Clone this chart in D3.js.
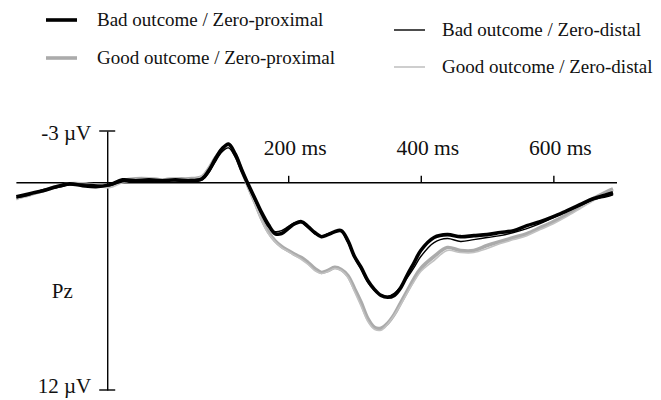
<!DOCTYPE html>
<html>
<head>
<meta charset="utf-8">
<script src="https://cdn.jsdelivr.net/npm/d3@7"></script>
<style>
  body { margin: 0; background: #fff; }
  svg text { font-family: "Liberation Serif", "Times New Roman", serif; fill: #111; }
</style>
</head>
<body>
<div id="chart"></div>
<script>
// time points (ms) at which the traces were read
const times = [-210, -190, -170, -150, -130, -110, -90, -70, -50, -30, -10, 10, 30, 50, 70,
  80, 90, 100, 110, 120, 130, 140, 150, 160, 170, 180, 190, 200, 210, 220, 230, 240, 250,
  260, 270, 280, 290, 300, 310, 320, 330, 340, 350, 360, 370, 380, 390, 400,
  420, 440, 460, 480, 500, 520, 540, 560, 580, 600, 620, 640, 660, 680, 690];

// amplitudes in µV (positive plotted downward)
const badProximal = [0.81, 0.63, 0.46, 0.23, 0.06, 0.17, 0.23, 0.12, -0.17, -0.12, -0.17, -0.12, -0.17, -0.12, -0.23,
  -0.69, -1.38, -1.96, -2.25, -1.67, -0.75, 0.12, 0.92, 1.73, 2.42, 2.94, 2.94, 2.65, 2.37, 2.25, 2.54, 2.88, 3.12,
  3.00, 2.83, 2.77, 3.35, 4.27, 4.90, 5.65, 6.17, 6.52, 6.63, 6.52, 6.06, 5.31, 4.62, 3.92,
  3.17, 3.00, 3.12, 3.06, 3.00, 2.88, 2.77, 2.48, 2.25, 1.96, 1.62, 1.27, 0.92, 0.69, 0.58];

const goodProximal = [0.87, 0.69, 0.46, 0.23, 0.06, 0.06, 0.12, 0.17, -0.12, -0.23, -0.23, -0.17, -0.23, -0.23, -0.35,
  -0.81, -1.44, -1.90, -2.13, -1.62, -0.69, 0.23, 1.15, 2.08, 2.83, 3.35, 3.69, 3.92, 4.15, 4.33, 4.62, 4.96, 5.19,
  5.08, 4.90, 5.02, 5.37, 6.12, 6.92, 7.85, 8.37, 8.42, 8.13, 7.62, 6.92, 6.23, 5.54, 4.96,
  4.27, 3.75, 3.92, 3.92, 3.63, 3.40, 3.17, 2.94, 2.60, 2.25, 1.85, 1.38, 0.92, 0.52, 0.35];

const badDistal = [0.87, 0.69, 0.40, 0.29, 0.12, 0.06, 0.12, 0.17, -0.06, -0.12, -0.06, -0.17, -0.12, -0.06, -0.17,
  -0.58, -1.21, -1.79, -2.02, -1.50, -0.58, 0.23, 1.04, 1.85, 2.54, 2.83, 2.77, 2.54, 2.31, 2.31, 2.60, 2.94, 3.12,
  2.94, 2.83, 2.83, 3.46, 4.33, 5.02, 5.77, 6.23, 6.52, 6.58, 6.40, 6.00, 5.48, 4.90, 4.27,
  3.46, 3.23, 3.40, 3.29, 3.17, 3.06, 2.88, 2.65, 2.37, 2.02, 1.67, 1.33, 0.98, 0.81, 0.69];

const goodDistal = [0.98, 0.63, 0.52, 0.17, 0.12, 0.00, 0.17, 0.29, 0.00, -0.17, -0.29, -0.23, -0.29, -0.17, -0.40,
  -0.87, -1.50, -1.96, -2.08, -1.56, -0.58, 0.35, 1.27, 2.19, 2.94, 3.40, 3.75, 3.98, 4.21, 4.44, 4.73, 5.08, 5.25,
  5.14, 4.96, 5.08, 5.48, 6.29, 7.15, 8.02, 8.48, 8.54, 8.19, 7.67, 7.04, 6.35, 5.71, 5.14,
  4.50, 3.92, 4.04, 4.04, 3.81, 3.52, 3.29, 3.06, 2.71, 2.37, 1.96, 1.50, 1.04, 0.63, 0.46];

const xTicks = [200, 400, 600];
const yLimits = [-3, 12];
const yLimitLabels = ["-3 µV", "12 µV"];
const channelLabel = "Pz";

const series = [
  { name: "Good outcome / Zero-proximal", values: goodProximal, color: "#ababab", width: 3.6 },
  { name: "Good outcome / Zero-distal", values: goodDistal, color: "#c2c2c2", width: 1.6 },
  { name: "Bad outcome / Zero-proximal", values: badProximal, color: "#000", width: 3.6 },
  { name: "Bad outcome / Zero-distal", values: badDistal, color: "#000", width: 1.4 }
];

const width = 661, height = 400;
const svg = d3.select("#chart").append("svg")
  .attr("width", width).attr("height", height);

const x = d3.scaleLinear().domain([-210, 696]).range([16.4, 617]);
const y = d3.scaleLinear().domain(yLimits).range([131, 390]);
const yAxisTime = -73;  // vertical axis sits a little before onset in the original figure

// horizontal zero line with upward ticks
const xAxis = d3.axisTop(x).tickValues(xTicks).tickSize(7).tickFormat("");
const gx = svg.append("g").attr("transform", `translate(0,${y(0)})`).call(xAxis);
gx.select(".domain").attr("d", `M${x(-210)},0H${x(696)}`).attr("stroke-width", 1.6);
gx.selectAll(".tick line").attr("stroke-width", 1.4);
svg.selectAll(".xlab").data(xTicks).enter().append("text")
  .attr("x", d => x(d) + 7).attr("y", 155)
  .attr("text-anchor", "middle").style("font-size", "21.5px")
  .text(d => d + " ms");

// vertical axis with end ticks
const gy = svg.append("g").attr("transform", `translate(${x(yAxisTime)},0)`)
  .call(d3.axisLeft(y).tickValues(yLimits).tickSizeInner(0).tickSizeOuter(0).tickFormat(""));
gy.select(".domain").attr("stroke-width", 1.4);
gy.selectAll(".end").data(yLimits).enter().append("line")
  .attr("x1", -8).attr("x2", 8).attr("y1", d => y(d)).attr("y2", d => y(d))
  .attr("stroke", "#000").attr("stroke-width", 1.4);
gy.selectAll(".ylab").data(yLimits).enter().append("text")
  .attr("x", -16).attr("y", (d, i) => y(d) + (i ? 3 : 9))
  .attr("text-anchor", "end").style("font-size", "21px")
  .text((d, i) => yLimitLabels[i]);
gy.append("text").attr("x", -45).attr("y", y(6.7))
  .attr("text-anchor", "middle").style("font-size", "21px").text(channelLabel);

// traces
const line = d3.line()
  .x((d, i) => x(times[i]))
  .y(d => y(d))
  .curve(d3.curveCatmullRom);

svg.append("g").selectAll("path").data(series).enter().append("path")
  .attr("d", d => line(d.values))
  .attr("fill", "none")
  .attr("stroke", d => d.color)
  .attr("stroke-width", d => d.width)
  .attr("stroke-linejoin", "round");

// legend
const legendItems = [
  { s: series[2], x: 46, y: 20 },
  { s: series[0], x: 46, y: 58 },
  { s: series[3], x: 394, y: 30 },
  { s: series[1], x: 394, y: 67 }
];
const lg = svg.append("g").selectAll("g").data(legendItems).enter().append("g")
  .attr("transform", d => `translate(${d.x},${d.y})`);
lg.append("line").attr("x1", 0).attr("x2", 31)
  .attr("stroke", d => d.s.color).attr("stroke-width", d => d.s.width);
lg.append("text").attr("x", d => d.x < 100 ? 51 : 48).attr("y", 6)
  .style("font-size", "19px").text(d => d.s.name);
</script>
</body>
</html>
